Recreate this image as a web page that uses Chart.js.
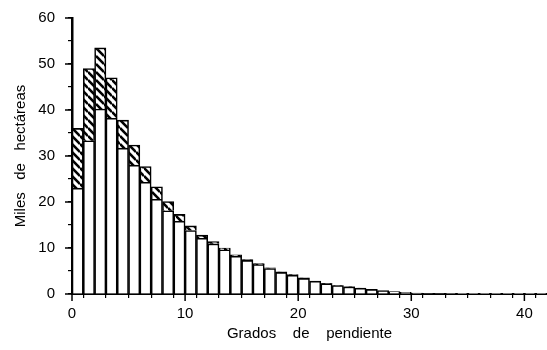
<!DOCTYPE html>
<html>
<head>
<meta charset="utf-8">
<script src="https://cdn.jsdelivr.net/npm/chart.js@4/dist/chart.umd.min.js"></script>
<style>
  html, body { margin: 0; padding: 0; background: #fff; }
  #wrap { width: 547px; height: 350px; }
</style>
</head>
<body>
<div id="wrap"><canvas id="chart"></canvas></div>
<script>
// bins of 1 degree, start of each bin
const binStart = [0, 1, 2, 3, 4, 5, 6, 7, 8, 9, 10, 11, 12, 13, 14, 15, 16, 17, 18, 19, 20,
                  21, 22, 23, 24, 25, 26, 27, 28, 29, 30, 31, 32, 33, 34, 35, 36, 37, 38, 39, 40, 41];
// lower (white) part, thousands of ha
const plainVals = [23, 33.3, 40.2, 38.2, 31.7, 28, 24.3, 20.6, 18.1, 15.8, 13.8, 12.1, 10.9, 9.6, 8.2,
                   7.3, 6.4, 5.55, 4.7, 4.1, 3.4, 2.75, 2.25, 1.85, 1.55, 1.25, 1.0, 0.75, 0.55, 0.35,
                   0.2, 0.12, 0.1, 0.08, 0.06, 0.05, 0.04, 0.03, 0.03, 0.02, 0.02, 0.02];
// upper (hatched) part
const hatchVals = [13, 15.7, 13.3, 8.8, 6.1, 4.4, 3.4, 2.7, 2.0, 1.5, 1.0, 0.7, 0.5, 0.4, 0.3,
                   0.2, 0.2, 0.15, 0.1, 0.1, 0.1, 0.05, 0.05, 0.05, 0.05, 0.05, 0.03, 0, 0, 0,
                   0, 0, 0, 0, 0, 0, 0, 0, 0, 0, 0, 0];
const xTitle = "Grados    de    pendiente";
const yTitle = "Miles   de   hectáreas";

// hatch pattern "\\\"
const makeHatch = () => {
    const s = 8;
    const c = document.createElement("canvas");
    c.width = s; c.height = s;
    const g = c.getContext("2d");
    g.fillStyle = "#fff";
    g.fillRect(0, 0, s, s);
    g.strokeStyle = "#000";
    g.lineWidth = 2.6;
    [-s, 0, s].forEach(k => {
        g.beginPath();
        g.moveTo(0, k);
        g.lineTo(s, s + k);
        g.stroke();
    });
    return g.createPattern(c, "repeat");
};

const toPoints = vals => vals.map((v, i) => ({ x: binStart[i] + 0.5, y: v }));

// longer tick marks at the labelled values
const majorTicks = {
    id: "majorTicks",
    afterDraw(chart) {
        const c = chart.ctx;
        const xs = chart.scales.x, ys = chart.scales.y;
        c.save();
        c.strokeStyle = "#000";
        c.lineWidth = 1.5;
        xs.ticks.forEach(t => {
            if (t.value % 10 === 0) {
                const px = xs.getPixelForValue(t.value);
                c.beginPath(); c.moveTo(px, xs.top); c.lineTo(px, xs.top + 7); c.stroke();
            }
        });
        ys.ticks.forEach(t => {
            if (t.value % 10 === 0) {
                const py = ys.getPixelForValue(t.value);
                c.beginPath(); c.moveTo(ys.right, py); c.lineTo(ys.right - 7, py); c.stroke();
            }
        });
        c.restore();
    }
};

Chart.defaults.font.family = "'Liberation Sans', Arial, sans-serif";
Chart.defaults.color = "#000";

const ctx = document.getElementById("chart").getContext("2d");
new Chart(ctx, {
    type: "bar",
    data: {
        datasets: [{
            data: toPoints(plainVals),
            backgroundColor: "#fff",
            borderColor: "#000",
            borderWidth: 1.6
        }, {
            data: toPoints(hatchVals),
            backgroundColor: makeHatch(),
            borderColor: "#000",
            borderWidth: 1.6
        }]
    },
    options: {
        responsive: true,
        maintainAspectRatio: false,
        animation: false,
        layout: { padding: { top: 18, right: 0, left: 0, bottom: 0 } },
        plugins: { legend: { display: false }, tooltip: { enabled: false } },
        datasets: { bar: { barPercentage: 1, categoryPercentage: 1 } },
        scales: {
            x: {
                type: "linear",
                stacked: true,
                offset: false,
                min: 0,
                max: 42,
                afterFit: s => { s.height = 56; s.paddingRight = 0; s.paddingLeft = 0; },
                border: { color: "#000", width: 2 },
                grid: { drawOnChartArea: false, drawTicks: true, tickLength: 4, color: "#000", lineWidth: 1.2 },
                ticks: {
                    stepSize: 2,
                    autoSkip: false,
                    maxRotation: 0,
                    padding: 7,
                    font: { size: 15 },
                    callback: v => (v % 10 === 0 ? String(v) : "")
                },
                title: { display: true, text: xTitle, font: { size: 15 }, padding: { top: 2, bottom: 7 } }
            },
            y: {
                stacked: true,
                min: 0,
                max: 60,
                afterFit: s => { s.width = 72; s.paddingTop = 0; s.paddingBottom = 0; },
                border: { color: "#000", width: 2.5 },
                grid: { drawOnChartArea: false, drawTicks: true, tickLength: 4, color: "#000", lineWidth: 1.2 },
                ticks: {
                    stepSize: 5,
                    autoSkip: false,
                    padding: 13,
                    font: { size: 15 },
                    callback: v => (v % 10 === 0 ? String(v) : "")
                },
                title: { display: true, text: yTitle, font: { size: 15 }, padding: { top: 12, bottom: 0 } }
            }
        }
    },
    plugins: [majorTicks]
});
</script>
</body>
</html>
